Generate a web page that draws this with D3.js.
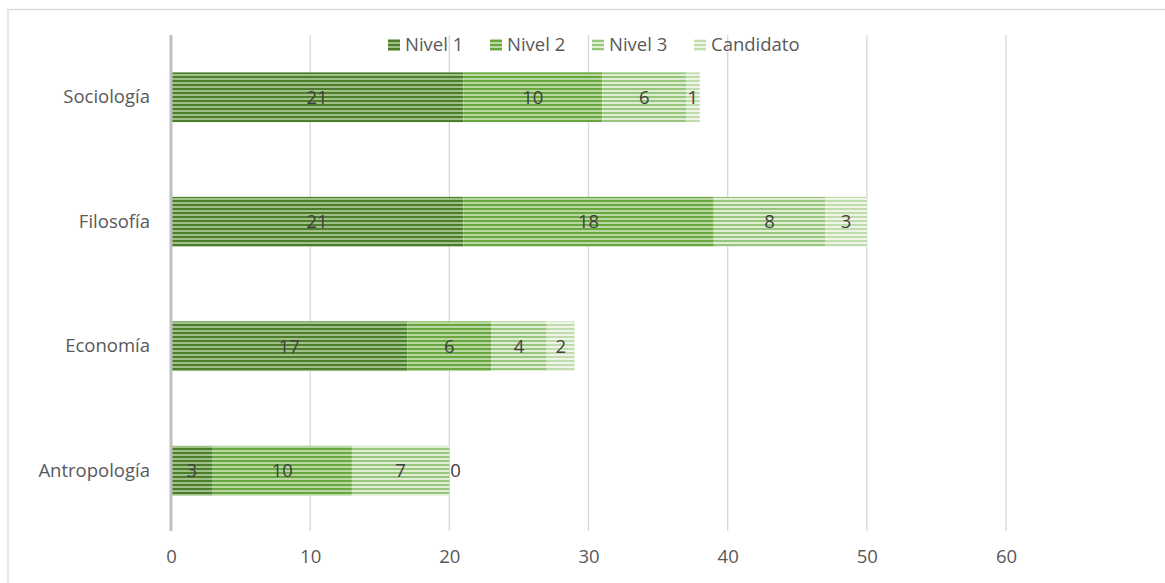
<!DOCTYPE html>
<html><head><meta charset="utf-8">
<script src="https://cdn.jsdelivr.net/npm/d3@7"></script>
<style>
html,body{margin:0;padding:0;background:#fff;}
text{font-family:"Open Sans","Noto Sans",sans-serif;}
</style></head>
<body>
<svg id="chart" width="1165" height="583"></svg>
<script>
const categories = ["Sociología","Filosofía","Economía","Antropología"];
const seriesNames = ["Nivel 1","Nivel 2","Nivel 3","Candidato"];
const nivel1 = [21,21,17,3];
const nivel2 = [10,18,6,10];
const nivel3 = [6,8,4,7];
const candidato = [1,3,2,0];
const xTicks = [0,10,20,30,40,50,60];

const seriesValues = [nivel1,nivel2,nivel3,candidato];
const rows = categories.map((c,i)=>{
  const r={cat:c};
  seriesNames.forEach((s,j)=>r[s]=seriesValues[j][i]);
  return r;
});

const FS = 18.5;
const svg = d3.select("#chart");
svg.append("rect").attr("x",8).attr("y",9.5).attr("width",1170).attr("height",590)
  .attr("fill","none").attr("stroke","#d9d9d9").attr("stroke-width",1.3);

const defs = svg.append("defs");
const pat = [
  {id:"p0", bg:"#9fc187", line:"#4c7d2d"},
  {id:"p1", bg:"#b8d7a2", line:"#68a73d"},
  {id:"p2", bg:"#e0eed6", line:"#98c57c"},
  {id:"p3", bg:"#eef5e8", line:"#c0dcad"}
];
pat.forEach(p=>{
  const g = defs.append("pattern").attr("id",p.id).attr("patternUnits","userSpaceOnUse")
    .attr("width",8).attr("height",4);
  g.append("rect").attr("width",8).attr("height",4).attr("fill",p.bg);
  g.append("rect").attr("y",0).attr("width",8).attr("height",2).attr("fill",p.line);
});

const x = d3.scaleLinear().domain([0,60]).range([171,1006]);
const y = d3.scaleBand().domain(categories).range([35,533]).paddingInner(0.6).paddingOuter(0.3);

svg.append("g").selectAll("line").data(xTicks.filter(t=>t>0)).join("line")
  .attr("x1",d=>x(d)).attr("x2",d=>x(d)).attr("y1",35).attr("y2",531)
  .attr("stroke","#d9d9d9").attr("stroke-width",1.3);

const stack = d3.stack().keys(seriesNames)(rows);
const gb = svg.append("g");
stack.forEach((layer,j)=>{
  gb.append("g").selectAll("rect").data(layer).join("rect")
    .attr("x",d=>x(d[0])).attr("width",d=>x(d[1])-x(d[0]))
    .attr("y",d=>y(d.data.cat)).attr("height",y.bandwidth())
    .attr("fill",`url(#p${j})`);
});
stack.forEach((layer,j)=>{
  gb.append("g").selectAll("text").data(layer).join("text")
    .attr("x",d=>{const v=d[1]-d[0]; return v===0? x(d[0])+1 : (x(d[0])+x(d[1]))/2;})
    .attr("text-anchor",d=>(d[1]-d[0])===0?"start":"middle")
    .attr("y",d=>y(d.data.cat)+y.bandwidth()/2)
    .attr("dy","0.35em")
    .attr("font-size",FS).attr("fill","#404040")
    .text(d=>d[1]-d[0]);
});

svg.append("line").attr("x1",x(0)).attr("x2",x(0)).attr("y1",35).attr("y2",531)
  .attr("stroke","#bfbfbf").attr("stroke-width",3);

const xa = svg.append("g").attr("transform","translate(0,531)").call(d3.axisBottom(x).tickValues(xTicks).tickSize(0).tickPadding(19));
xa.select(".domain").remove();
xa.selectAll("text").attr("font-size",FS).attr("fill","#595959").attr("font-family","'Open Sans','Noto Sans',sans-serif");

const ya = svg.append("g").attr("transform","translate(171,0)").call(d3.axisLeft(y).tickSize(0).tickPadding(21));
ya.select(".domain").remove();
ya.selectAll("text").attr("font-size",FS).attr("fill","#595959").attr("font-family","'Open Sans','Noto Sans',sans-serif");

const lg = svg.append("g");
seriesNames.forEach((s,j)=>{
  const lx = 388 + j*102;
  lg.append("rect").attr("x",lx).attr("y",39).attr("width",12).attr("height",12).attr("fill",`url(#p${j})`);
  lg.append("text").attr("x",lx+17).attr("y",45).attr("dy","0.35em").attr("font-size",FS).attr("fill","#595959").text(s);
});
</script>
</body></html>
